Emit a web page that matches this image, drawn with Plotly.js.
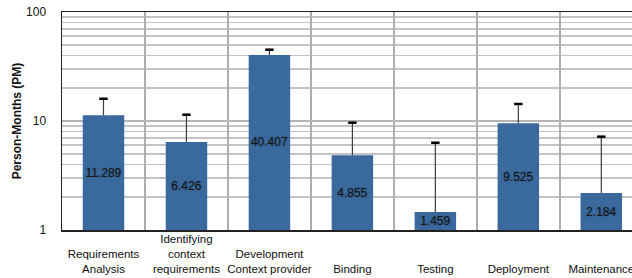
<!DOCTYPE html>
<html><head><meta charset="utf-8">
<script src="https://cdn.plot.ly/plotly-3.0.1.min.js"></script>
<style>html,body{margin:0;padding:0;background:#fff}#chart{width:632px;height:278px}</style>
</head><body><div id="chart"></div>
<script>
const categories = ["Requirements Analysis","Identifying context requirements","Development Context provider","Binding","Testing","Deployment","Maintenance"];
const tickLabels = ["\u00a0<br>Requirements<br>Analysis","Identifying<br>context<br>requirements","\u00a0<br>Development<br>Context provider","\u00a0<br>\u00a0<br>Binding","\u00a0<br>\u00a0<br>Testing","\u00a0<br>\u00a0<br>Deployment","\u00a0<br>\u00a0<br>Maintenance"];
const pm = [11.289, 6.426, 40.407, 4.855, 1.459, 9.525, 2.184];
const errPlus = [4.7, 5.0, 4.7, 4.8, 4.86, 4.8, 5.0];
const pmLabels = ["11.289","6.426","40.407","4.855","1.459","9.525","2.184"];

const tops = pm.map((v,i)=>v+errPlus[i]);
const data = [
 {type:'bar', x:categories, y:pm, width:0.5, marker:{color:'#3a6a9d'},
  text:pmLabels, textposition:'inside', insidetextanchor:'middle', textangle:0, constraintext:'none',
  textfont:{family:'Liberation Sans, Arial, sans-serif', size:12, color:'#141414', shadow:'0px 0px 2px rgba(0,0,0,0.35)'},
  error_y:{type:'data', symmetric:false, array:errPlus, arrayminus:pm.map(()=>0), width:0, thickness:1.2, color:'#3c3c3c'},
  hoverinfo:'skip'},
 {type:'scatter', mode:'markers', x:categories, y:tops,
  marker:{symbol:'line-ew', size:6, line:{width:2.5, color:'#000'}}, hoverinfo:'skip'}
];
const layout = {
 width:632, height:278, showlegend:false,
 margin:{l:62, r:0, t:12, b:48},
 paper_bgcolor:'#fff', plot_bgcolor:'#fff',
 font:{family:'Liberation Sans, Arial, sans-serif', size:11, color:'#111'},
 xaxis:{type:'category', range:[-0.5, 6.37], tickvals:categories, ticktext:tickLabels, tickangle:0,
   tickson:'boundaries', showgrid:true, gridcolor:'#adadad', gridwidth:2,
   showline:true, linecolor:'#222', linewidth:1.5, mirror:true, ticks:'', tickfont:{size:11.5}, ticklabelstandoff:-2},
 yaxis:{type:'log', range:[0,2], dtick:1, tickvals:[1,10,100], ticktext:['1','10','100'],
   showgrid:true, gridcolor:'#b5b5b5', gridwidth:1.5, zeroline:false,
   minor:{dtick:'D1', showgrid:true, gridcolor:'#c4c4c4', gridwidth:1.5, ticks:''},
   showline:true, linecolor:'#222', linewidth:1.5, ticks:'', ticklabelstandoff:12,
   tickfont:{size:12},
   title:{text:'<b>Person-Months (PM)</b>', font:{size:12}, standoff:2}}
};
Plotly.newPlot('chart', data, layout, {displayModeBar:false, staticPlot:true});
</script></body></html>
